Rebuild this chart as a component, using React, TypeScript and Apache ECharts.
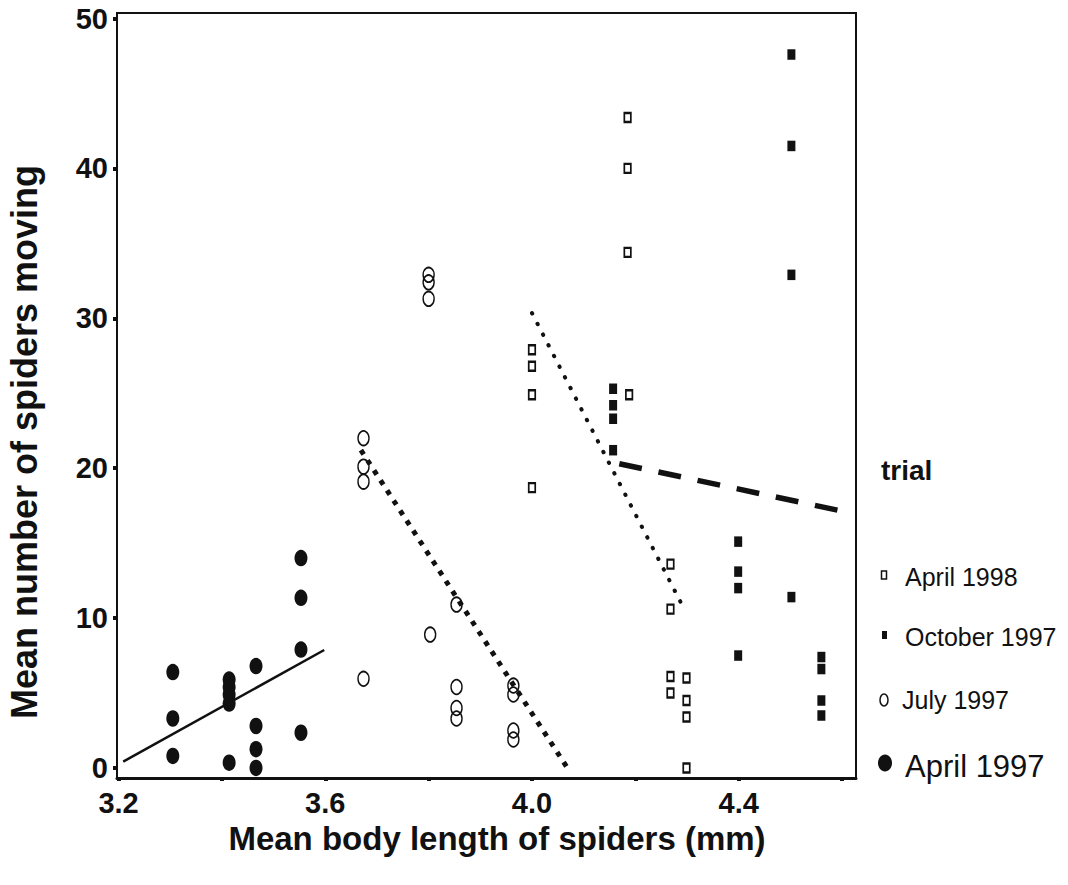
import React, { useEffect, useRef } from "react";
import * as echarts from "echarts";

// ---- data ----
const xTickValues = [3.2, 3.4, 3.6, 3.8, 4.0, 4.2, 4.4, 4.6];
const xLabelValues = [3.2, 3.6, 4.0, 4.4];
const yTickValues = [0, 10, 20, 30, 40, 50];

const april1997 = [
  [3.305, 6.4], [3.305, 3.3], [3.305, 0.8],
  [3.414, 5.9], [3.414, 5.4], [3.414, 4.9], [3.414, 4.3], [3.414, 0.35],
  [3.466, 6.8], [3.466, 2.8], [3.466, 1.25], [3.466, 0.0],
  [3.553, 14.0], [3.553, 11.35], [3.553, 7.9], [3.553, 2.35],
];
const july1997 = [
  [3.674, 22.0], [3.674, 20.1], [3.674, 19.1], [3.674, 5.95],
  [3.8, 32.9], [3.8, 32.4], [3.8, 31.3], [3.803, 8.9],
  [3.854, 10.9], [3.854, 5.4], [3.854, 4.0], [3.854, 3.3],
  [3.964, 5.5], [3.964, 4.9], [3.964, 2.5], [3.964, 1.9],
];
const april1998 = [
  [4.0, 27.9], [4.0, 26.8], [4.0, 24.9], [4.0, 18.7],
  [4.185, 43.4], [4.185, 40.0], [4.185, 34.4], [4.188, 24.9],
  [4.268, 13.6], [4.268, 10.6], [4.268, 6.1], [4.268, 5.0],
  [4.299, 6.0], [4.299, 4.5], [4.299, 3.4], [4.299, 0.0],
];
const october1997 = [
  [4.157, 25.3], [4.157, 24.2], [4.157, 23.3], [4.157, 21.2],
  [4.399, 15.1], [4.399, 13.1], [4.399, 12.0], [4.399, 7.5],
  [4.502, 47.6], [4.502, 41.5], [4.502, 32.9], [4.502, 11.4],
  [4.56, 7.4], [4.56, 6.6], [4.56, 4.5], [4.56, 3.5],
];

const fitApril1997 = [[3.209, 0.42], [3.598, 7.87]];
const fitJuly1997 = [[3.669, 21.2], [4.072, -0.18]];
const fitApril1998 = [[4.0, 30.35], [4.296, 10.5]];
const fitOctober1997 = [[4.169, 20.3], [4.605, 17.1]];

const FONT = "'Liberation Sans', Arial, Helvetica, sans-serif";
const INK = "#111";

export default function App() {
  const ref = useRef<HTMLDivElement>(null);

  useEffect(() => {
    if (!ref.current) return;
    const chart = echarts.init(ref.current, undefined, { renderer: "svg" });

    const option: any = {
      animation: false,
      backgroundColor: "#fff",
      grid: {
        left: 117,
        right: 212,
        top: 13,
        bottom: 107,
        show: true,
        borderColor: INK,
        borderWidth: 2,
        backgroundColor: "transparent",
      },
      xAxis: {
        type: "value",
        min: 3.197,
        max: 4.627,
        axisLine: { show: true, onZero: false, lineStyle: { color: INK, width: 3 } },
        axisTick: {
          show: true,
          customValues: xTickValues,
          length: 3,
          lineStyle: { color: INK, width: 4 },
        },
        axisLabel: {
          customValues: xLabelValues,
          formatter: (v: number) => v.toFixed(1),
          fontSize: 29,
          fontWeight: "bold",
          fontFamily: FONT,
          color: INK,
          margin: 10,
        },
        splitLine: { show: false },
      },
      yAxis: {
        type: "value",
        min: -0.67,
        max: 50.37,
        axisLine: { show: true, onZero: false, lineStyle: { color: INK, width: 2 } },
        axisTick: {
          show: true,
          customValues: yTickValues,
          length: 4,
          lineStyle: { color: INK, width: 4 },
        },
        axisLabel: {
          customValues: yTickValues,
          fontSize: 29,
          fontWeight: "bold",
          fontFamily: FONT,
          color: INK,
          margin: 9,
        },
        splitLine: { show: false },
      },
      graphic: [
        {
          type: "text",
          x: 497,
          y: 838,
          style: {
            text: "Mean body length of spiders (mm)",
            font: `bold 33px ${FONT}`,
            fill: INK,
            textAlign: "center",
            textVerticalAlign: "middle",
          },
        },
        {
          type: "text",
          x: 24,
          y: 442,
          rotation: Math.PI / 2,
          style: {
            text: "Mean number of spiders moving",
            font: `bold 36px ${FONT}`,
            fill: INK,
            textAlign: "center",
            textVerticalAlign: "middle",
          },
        },
        {
          type: "text",
          x: 881,
          y: 470,
          style: {
            text: "trial",
            font: `bold 28px ${FONT}`,
            fill: INK,
            textAlign: "left",
            textVerticalAlign: "middle",
          },
        },
        // legend: April 1998
        {
          type: "rect",
          shape: { x: 881.5, y: 571, width: 5, height: 8 },
          style: { fill: "#fff", stroke: INK, lineWidth: 1.5 },
        },
        {
          type: "text",
          x: 905,
          y: 577,
          style: {
            text: "April 1998",
            font: `25px ${FONT}`,
            fill: INK,
            textAlign: "left",
            textVerticalAlign: "middle",
          },
        },
        // legend: October 1997
        {
          type: "rect",
          shape: { x: 882, y: 631, width: 5, height: 8 },
          style: { fill: INK },
        },
        {
          type: "text",
          x: 905,
          y: 637,
          style: {
            text: "October 1997",
            font: `25px ${FONT}`,
            fill: INK,
            textAlign: "left",
            textVerticalAlign: "middle",
          },
        },
        // legend: July 1997
        {
          type: "ellipse",
          shape: { cx: 884, cy: 700, rx: 4, ry: 6 },
          style: { fill: "none", stroke: INK, lineWidth: 1.5 },
        },
        {
          type: "text",
          x: 902,
          y: 700,
          style: {
            text: "July 1997",
            font: `25px ${FONT}`,
            fill: INK,
            textAlign: "left",
            textVerticalAlign: "middle",
          },
        },
        // legend: April 1997
        {
          type: "ellipse",
          shape: { cx: 885, cy: 763, rx: 7, ry: 8.5 },
          style: { fill: INK },
        },
        {
          type: "text",
          x: 905,
          y: 766,
          style: {
            text: "April 1997",
            font: `31px ${FONT}`,
            fill: INK,
            textAlign: "left",
            textVerticalAlign: "middle",
          },
        },
      ],
      series: [
        {
          name: "April 1997",
          type: "scatter",
          data: april1997,
          symbol: "circle",
          symbolSize: [13, 16.5],
          itemStyle: { color: INK, opacity: 1 },
        },
        {
          name: "July 1997",
          type: "scatter",
          data: july1997,
          symbol: "circle",
          symbolSize: [11, 14.5],
          itemStyle: { color: "rgba(0,0,0,0)", borderColor: INK, borderWidth: 1.6, opacity: 1 },
        },
        {
          name: "April 1998",
          type: "scatter",
          data: april1998,
          symbol: "rect",
          symbolSize: [6.5, 9],
          itemStyle: { color: "#fff", borderColor: INK, borderWidth: 2, opacity: 1 },
        },
        {
          name: "October 1997",
          type: "scatter",
          data: october1997,
          symbol: "rect",
          symbolSize: [8, 10.5],
          itemStyle: { color: INK, opacity: 1 },
        },
        {
          name: "fit April 1997",
          type: "line",
          data: fitApril1997,
          symbol: "none",
          silent: true,
          lineStyle: { color: INK, width: 2.5 },
        },
        {
          name: "fit July 1997",
          type: "line",
          data: fitJuly1997,
          symbol: "none",
          silent: true,
          lineStyle: { color: INK, width: 5, type: [5, 7], cap: "butt" },
        },
        {
          name: "fit April 1998",
          type: "line",
          data: fitApril1998,
          symbol: "none",
          silent: true,
          lineStyle: { color: INK, width: 4, type: [0.5, 11.5], cap: "round" },
        },
        {
          name: "fit October 1997",
          type: "line",
          data: fitOctober1997,
          symbol: "none",
          silent: true,
          lineStyle: { color: INK, width: 5.5, type: [23, 17], cap: "butt" },
        },
      ],
    };

    chart.setOption(option);
    return () => chart.dispose();
  }, []);

  return (
    <div
      ref={ref}
      style={{ position: "fixed", left: 0, top: 0, width: 1068, height: 885, background: "#fff" }}
    />
  );
}
